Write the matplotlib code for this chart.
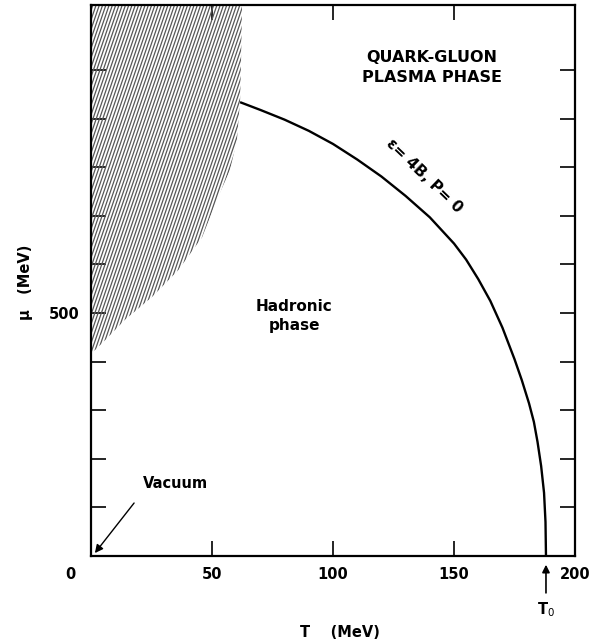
import numpy as np
import matplotlib
matplotlib.use("Agg")
import matplotlib.pyplot as plt
from matplotlib.patches import Polygon

# ── data ──────────────────────────────────────────────────────
# phase boundary  eps = 4B, P = 0
T_boundary = [61.6, 70, 80, 90, 100, 110, 120, 130, 140, 150, 155, 160,
              165, 170, 175, 178, 181, 183, 184.5, 186, 187.2, 187.8, 188.0]
mu_boundary = [934, 918, 898, 875, 848, 816, 781, 741, 697, 643, 610, 570,
               525, 470, 405, 362, 314, 276, 235, 185, 130, 70, 0]

# right edge of the hatched (excluded) region, from top down
hatch_T = [62.4, 62.0, 61.6, 60.3, 57.4, 52.5, 45.9, 36.0, 25.2, 14.0, 5.8, 1.7, 0.0]
hatch_mu = [1134, 1020, 938, 856, 794, 739, 656, 588, 533, 486, 444, 424, 418]

x_ticks = [0, 50, 100, 150, 200]
x_ticklabels = ["", "50", "100", "150", "200"]
y_ticks = [0, 100, 200, 300, 400, 500, 600, 700, 800, 900, 1000]
y_ticklabels = ["", "", "", "", "", "500", "", "", "", "", ""]

T0 = 188.0
T_MAX, MU_MAX = 200, 1134

FONT = dict(family="DejaVu Sans", fontweight="bold")

fig = plt.figure(figsize=(5.96, 6.42), dpi=100)
ax = fig.add_axes([0.1527, 0.134, 0.8121, 0.8582])
ax.set_xlim(0, T_MAX)
ax.set_ylim(0, MU_MAX)

# hatched region: thin steep lines clipped to the polygon
verts = [(0, MU_MAX)] + list(zip(hatch_T, hatch_mu))
poly = Polygon(verts, closed=True, facecolor="none", edgecolor="none")
ax.add_patch(poly)
slope = 14.5   # ~70 deg on screen
for c in np.arange(-95, 70, 1.35):
    ln, = ax.plot([c, c + 1300 / slope], [0, 1300], color="#575757", lw=0.9)
    ln.set_clip_path(poly)

# boundary curve
ax.plot(T_boundary, mu_boundary, color="black", lw=1.7, solid_capstyle="butt")

# ticks
ax.set_xticks(x_ticks)
ax.set_xticklabels(x_ticklabels)
ax.set_yticks(y_ticks)
ax.set_yticklabels(y_ticklabels)
ax.tick_params(direction="in", length=11, width=1.2, top=True, right=True,
               labelsize=10.5, pad=8)
for lab in ax.get_xticklabels() + ax.get_yticklabels():
    lab.set_fontweight("bold")
for sp in ax.spines.values():
    sp.set_linewidth(1.6)
ax.text(-8.7, -38, "0", ha="center", va="center", fontsize=10.5,
        clip_on=False, **FONT)

# axis labels
ax.set_xlabel("T    (MeV)", fontsize=10.5, **FONT)
ax.xaxis.set_label_coords(0.514, -0.125)
ax.set_ylabel("\u03bc   (MeV)", fontsize=10.5, **FONT)
ax.yaxis.label.set_va("center")
ax.yaxis.set_label_coords(-0.136, 0.497)

# annotations
ax.text(141, 1006, "QUARK-GLUON\nPLASMA PHASE", ha="center", va="center",
        fontsize=11.5, linespacing=1.4, **FONT)
ax.text(84, 494, "Hadronic\nphase", ha="center", va="center",
        fontsize=11, linespacing=1.3, **FONT)
ax.text(137.5, 782, "\u03b5= 4B, P= 0", ha="center", va="center",
        rotation=-44, rotation_mode="anchor", fontsize=11, **FONT)
ax.text(21.5, 150, "Vacuum", ha="left", va="center", fontsize=10.5, **FONT)
ax.annotate("", xy=(1.6, 6), xytext=(17.8, 109),
            arrowprops=dict(arrowstyle="-|>", color="black", lw=1.0,
                            mutation_scale=12, shrinkA=0, shrinkB=0))

# T0 marker below the axis
ax.annotate("", xy=(T0, -18), xytext=(T0, -76),
            annotation_clip=False,
            arrowprops=dict(arrowstyle="-|>", color="black", lw=1.2,
                            mutation_scale=11, shrinkA=0, shrinkB=0))
ax.text(T0, -110, "T$_0$", ha="center", va="center", fontsize=10.5,
        clip_on=False, **FONT)

fig.savefig("out.png", dpi=100)
